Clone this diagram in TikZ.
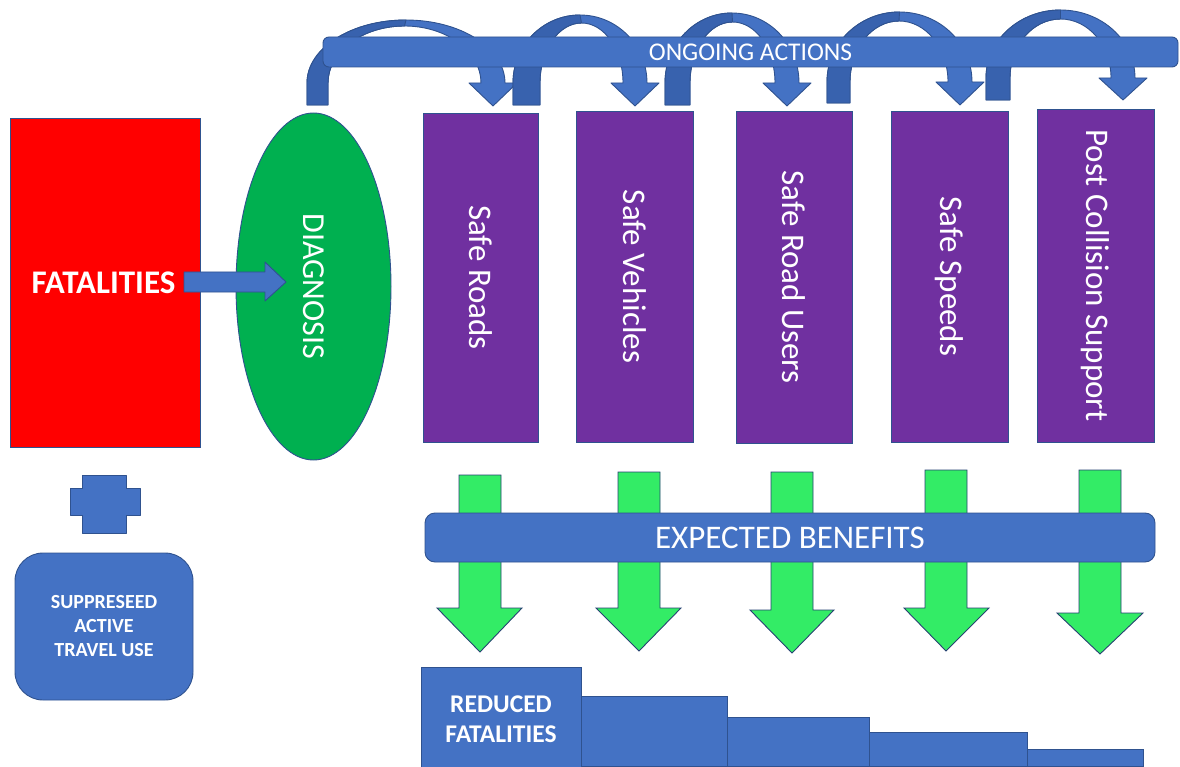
\documentclass[tikz,border=0pt]{standalone}
\usepackage{fontspec}
\setmainfont{Carlito}
\usetikzlibrary{shapes.geometric,calc}
\definecolor{bluefill}{HTML}{4472C4}
\definecolor{bluedark}{HTML}{3862AE}
\definecolor{edgeblue}{HTML}{2F528F}
\definecolor{redfill}{HTML}{FF0000}
\definecolor{greenfill}{HTML}{00B050}
\definecolor{purplefill}{HTML}{7030A0}
\definecolor{limefill}{HTML}{33EC66}
\newcommand{\curvedarrowshape}[9]{%
  \pgfmathsetmacro{\rxo}{(#4-#1)/2}%
  \pgfmathsetmacro{\ryo}{#6-#7}%
  \pgfmathsetmacro{\rxi}{(#5-#2)/2}%
  \pgfmathsetmacro{\ryi}{#6-#8}%
  \pgfmathsetmacro{\cxi}{(#5+#2)/2}%
  \pgfmathsetmacro{\tipx}{(#4+#5)/2}%
  \pgfmathsetmacro{\wl}{\tipx-24}%
  \pgfmathsetmacro{\wr}{\tipx+24}%
  \filldraw[curved] (#1,#3) -- (#1,#6)
     arc[start angle=180,end angle=0,x radius=\rxo pt,y radius=\ryo pt]
     -- (\wr,#6) -- (\tipx,#9) -- (\wl,#6) -- (#5,#6)
     arc[start angle=0,end angle=180,x radius=\rxi pt,y radius=\ryi pt]
     -- (#2,#3) -- cycle;
  \filldraw[curved,fill=bluedark] (#1,#3) -- (#1,#6)
     arc[start angle=180,end angle=90,x radius=\rxo pt,y radius=\ryo pt]
     -- (\cxi,#8)
     arc[start angle=90,end angle=180,x radius=\rxi pt,y radius=\ryi pt]
     -- (#2,#3) -- cycle;
}
\newcommand{\greendownshape}[7]{%
  \pgfmathsetmacro{\gtip}{(#1+#2)/2}%
  \filldraw[limearrow] (#1,#3) -- (#2,#3) -- (#2,#4) -- (#6,#4) -- (\gtip,#7)
     -- (#5,#4) -- (#1,#4) -- cycle;
}
\begin{document}
\begin{tikzpicture}[x=1pt,y=-1pt,
  curved/.style={fill=bluefill,draw=edgeblue,line width=0.9pt,line join=round},
  limearrow/.style={fill=limefill,draw=edgeblue!80!black,line width=0.9pt},
  bluebar/.style={draw=edgeblue,fill=bluefill,line width=0.9pt,text=white,inner sep=0pt},
  purplebox/.style={draw=edgeblue,fill=purplefill,line width=0.9pt,text=white,rotate=-90,
     inner sep=0pt,font=\fontsize{33}{40}\selectfont},
  stepbox/.style={draw=edgeblue,fill=bluefill,line width=0.9pt,inner sep=0pt,text=white}]
\useasboundingbox (0,0) rectangle (1180,767);

% curved arrows (behind the bar)
\curvedarrowshape{307}{328}{105}{505}{481}{83}{20}{26}{106}
\curvedarrowshape{513}{540}{105}{647}{623}{83}{15}{23}{106}
\curvedarrowshape{665}{690}{105}{799}{775}{83}{13}{22}{106}
\curvedarrowshape{827}{850}{103}{972}{948}{82}{12}{21}{105}
\curvedarrowshape{986}{1010}{100}{1135}{1111}{78}{10}{19}{100}

\node[bluebar,rounded corners=6pt,minimum width=855pt,minimum height=30pt,
  font=\fontsize{25.5}{30}\selectfont] (ongoing) at (750.5,52) {ONGOING ACTIONS};

% left column
\node[draw=edgeblue,fill=redfill,line width=0.9pt,minimum width=190pt,minimum height=329pt,
  inner sep=0pt,text=white,font=\bfseries\fontsize{33}{38}\selectfont] (fat) at (105,282.5) {\kern-3pt FATALITIES};
\node[ellipse,draw=edgeblue,fill=greenfill,line width=0.9pt,rotate=-90,minimum width=347pt,
  minimum height=155pt,inner sep=0pt,text=white,font=\fontsize{32}{38}\selectfont] (diag) at (313.5,286.5) {DIAGNOSIS};
\coordinate (fa) at (184,282);
\coordinate (fb) at (286,282);
\filldraw[curved] ($(fa)+(0,-10)$) -- (265,272) -- (265,262) -- (fb) -- (265,301) -- (265,292) -- ($(fa)+(0,10)$) -- cycle;

\filldraw[curved] (82,475) -- (126,475) -- (126,488) -- (140,488) -- (140,515) -- (126,515)
  -- (126,533) -- (82,533) -- (82,515) -- (70,515) -- (70,488) -- (82,488) -- cycle;
\node[stepbox,rounded corners=28pt,minimum width=178pt,minimum height=147pt,align=center,
  font=\bfseries\fontsize{20}{24}\selectfont] (supp) at (104,626.5) {SUPPRESEED\\ACTIVE\\TRAVEL USE};

% purple columns
\node[purplebox,minimum width=329pt,minimum height=115pt] (p1) at (480.5,277.5) {Safe Roads};
\node[purplebox,minimum width=331pt,minimum height=117pt] (p2) at (634.5,276.5) {Safe Vehicles};
\node[purplebox,minimum width=332pt,minimum height=116pt] (p3) at (794,277) {Safe Road Users};
\node[purplebox,minimum width=331pt,minimum height=117pt] (p4) at (949.5,276.5) {Safe Speeds};
\node[purplebox,minimum width=333pt,minimum height=117pt] (p5) at (1095.5,275.5) {Post Collision Support};

% green arrows
\greendownshape{459}{501}{475}{608}{437}{522}{652}
\greendownshape{618}{660}{472}{608}{596}{681}{651}
\greendownshape{771}{813}{472}{610}{750}{834}{653}
\greendownshape{925}{967}{470}{608}{904}{989}{651}
\greendownshape{1079}{1121}{470}{613}{1057}{1143}{654}

\node[bluebar,rounded corners=10pt,minimum width=730pt,minimum height=49pt,
  font=\fontsize{33}{40}\selectfont] (benefits) at (790,537.5) {EXPECTED BENEFITS};

% steps
\node[stepbox,minimum width=146pt,minimum height=70pt] (b2) at (654,731) {};
\node[stepbox,minimum width=142pt,minimum height=49pt] (b3) at (798,741.5) {};
\node[stepbox,minimum width=158pt,minimum height=34pt] (b4) at (948,749) {};
\node[stepbox,minimum width=116pt,minimum height=17pt] (b5) at (1085,757.5) {};
\node[stepbox,minimum width=160pt,minimum height=105pt,align=center,
  font=\bfseries\fontsize{25.5}{30}\selectfont] (b1) at (501,719.5) {REDUCED\\FATALITIES};
\end{tikzpicture}
\end{document}
